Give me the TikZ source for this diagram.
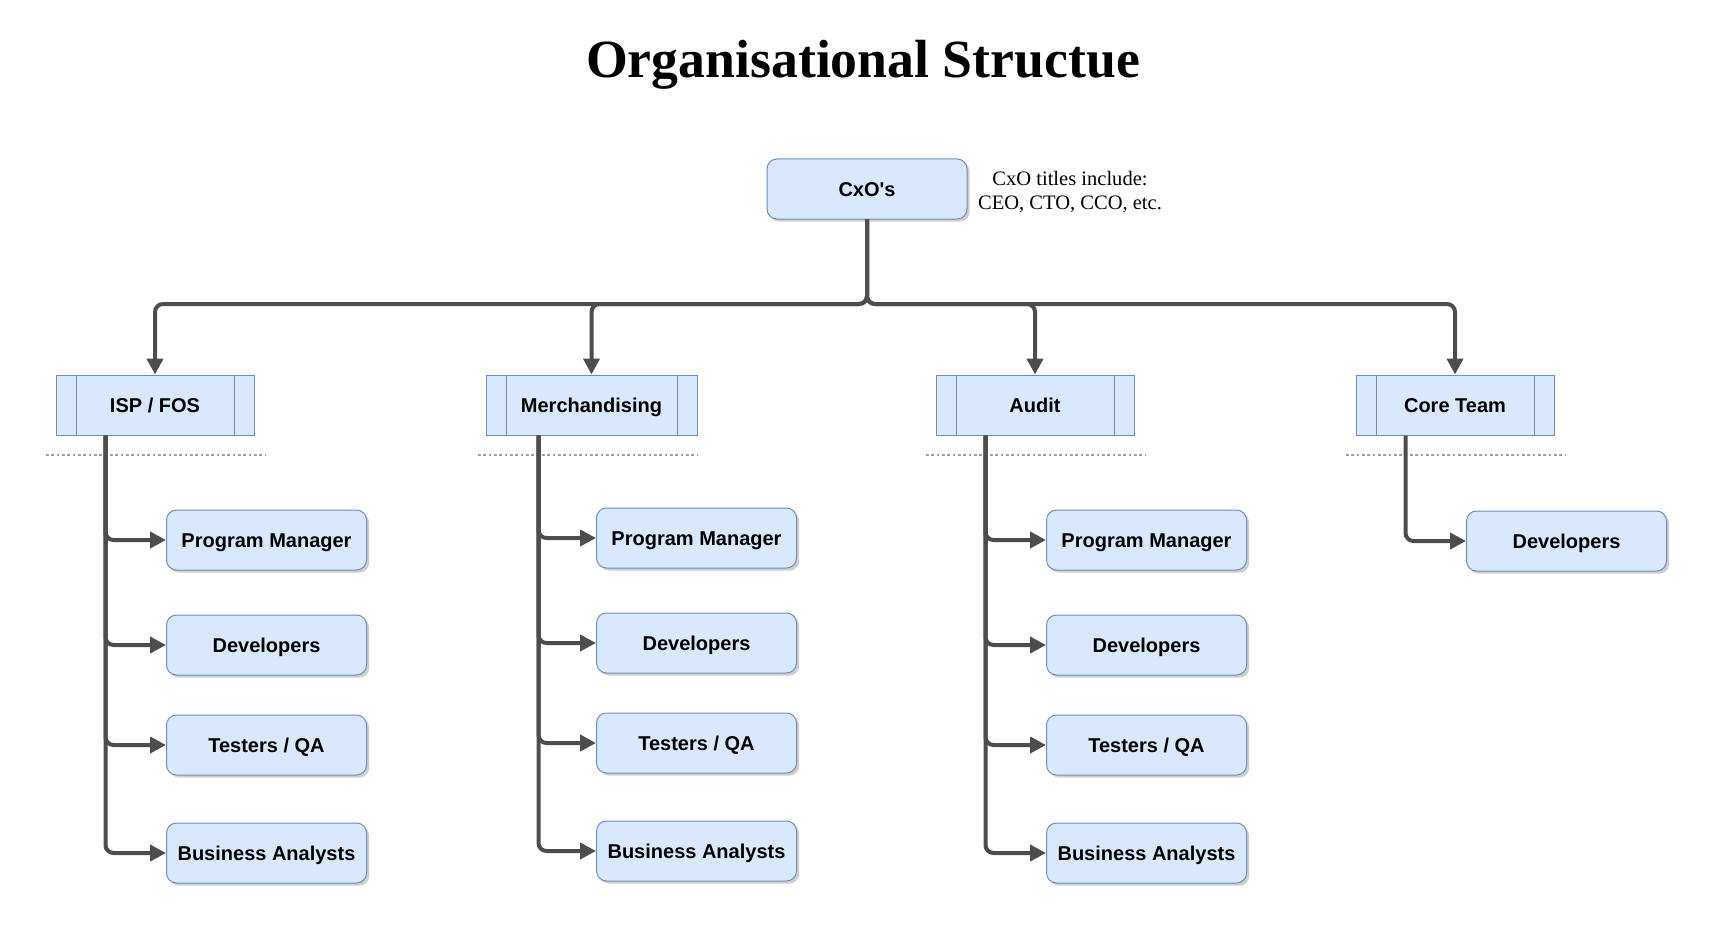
\documentclass[tikz,border=0pt]{standalone}
\usepackage{fontspec}
\setmainfont{Liberation Serif}
\setsansfont{Liberation Sans}
\usetikzlibrary{arrows.meta,shadows}

\definecolor{boxfill}{HTML}{DAE8FC}
\definecolor{boxline}{HTML}{6C8EBF}
\definecolor{linkgray}{HTML}{4D4D4D}
\definecolor{sepgray}{HTML}{A0A0A0}

\tikzset{every picture/.style={line width=0.75pt}}
\tikzset{
  boxfont/.style={font=\sffamily\bfseries\fontsize{15pt}{18pt}\selectfont,
    text height=10.7pt, text depth=0pt},
  rolebox/.style={boxfont, draw=boxline, fill=boxfill, rounded corners=7.5pt,
    minimum width=150pt, minimum height=45pt, inner sep=0pt,
    drop shadow={shadow xshift=2pt, shadow yshift=-2pt, opacity=0.35, fill=black!55}},
  groupbox/.style={boxfont, draw=boxline, fill=boxfill,
    minimum width=148.5pt, minimum height=45pt, inner sep=0pt,
    path picture={\draw[boxline]
      ([xshift=15pt]path picture bounding box.north west) -- ([xshift=15pt]path picture bounding box.south west)
      ([xshift=-15pt]path picture bounding box.north east) -- ([xshift=-15pt]path picture bounding box.south east);}},
  link/.style={draw=linkgray, line width=3pt, rounded corners=6pt,
    -{Triangle[length=12pt,width=12pt]}},
  sepline/.style={draw=sepgray, line width=1pt, dash pattern=on 2pt off 2pt},
}

\begin{document}
\begin{tikzpicture}[x=0.75pt,y=0.75pt,yscale=-1,xscale=1]
\useasboundingbox (0,0) rectangle (1734,938);

% Title
\node (title) at (863,65) [font=\bfseries\fontsize{40.3pt}{48pt}\selectfont] {Organisational Structue};

% Top level
\node (cxo) at (867,189) [rolebox] {CxO\textquotesingle s};
\node (note) at (1070,192) [align=center, font=\fontsize{15.4pt}{18pt}\selectfont] {CxO titles include:\\CEO, CTO, CCO, etc.};
\coordinate (bus) at (866,304);

% Departments
\node (isp) at (155,405) [groupbox] {ISP / FOS};
\node (merch) at (591.5,405) [groupbox, minimum width=158.25pt] {Merchandising};
\node (audit) at (1035,405) [groupbox] {Audit};
\node (core) at (1455,405) [groupbox] {Core Team};

% Separators
\draw[sepline] (46,455) -- (265,455);
\draw[sepline] (478,455) -- (697,455);
\draw[sepline] (926,455) -- (1145,455);
\draw[sepline] (1346,455) -- (1565,455);

% ISP / FOS team
\node (isp-pm) at (266.5,540) [rolebox] {Program Manager};
\node (isp-dev) at (266.5,645) [rolebox] {Developers};
\node (isp-qa) at (266.5,745) [rolebox] {Testers / QA};
\node (isp-ba) at (266.5,853) [rolebox] {Business Analysts};

% Merchandising team
\node (merch-pm) at (696.5,538) [rolebox] {Program Manager};
\node (merch-dev) at (696.5,643) [rolebox] {Developers};
\node (merch-qa) at (696.5,743) [rolebox] {Testers / QA};
\node (merch-ba) at (696.5,851) [rolebox] {Business Analysts};

% Audit team
\node (audit-pm) at (1146.5,540) [rolebox] {Program Manager};
\node (audit-dev) at (1146.5,645) [rolebox] {Developers};
\node (audit-qa) at (1146.5,745) [rolebox] {Testers / QA};
\node (audit-ba) at (1146.5,853) [rolebox] {Business Analysts};

% Core team
\node (core-dev) at (1566.5,541) [rolebox] {Developers};

% CxO to departments
\draw[link] (cxo.south) -- (cxo.south |- bus) -| (isp.north);
\draw[link] (cxo.south) -- (cxo.south |- bus) -| (merch.north);
\draw[link] (cxo.south) -- (cxo.south |- bus) -| (audit.north);
\draw[link] (cxo.south) -- (cxo.south |- bus) -| (core.north);

% Departments to teams
\draw[link] (isp.south west) ++(50,0) |- (isp-pm.west);
\draw[link] (isp.south west) ++(50,0) |- (isp-dev.west);
\draw[link] (isp.south west) ++(50,0) |- (isp-qa.west);
\draw[link] (isp.south west) ++(50,0) |- (isp-ba.west);

\draw[link] (merch.south west) ++(53,0) |- (merch-pm.west);
\draw[link] (merch.south west) ++(53,0) |- (merch-dev.west);
\draw[link] (merch.south west) ++(53,0) |- (merch-qa.west);
\draw[link] (merch.south west) ++(53,0) |- (merch-ba.west);

\draw[link] (audit.south west) ++(50,0) |- (audit-pm.west);
\draw[link] (audit.south west) ++(50,0) |- (audit-dev.west);
\draw[link] (audit.south west) ++(50,0) |- (audit-qa.west);
\draw[link] (audit.south west) ++(50,0) |- (audit-ba.west);

\draw[link] (core.south west) ++(50,0) |- (core-dev.west);
\end{tikzpicture}
\end{document}
